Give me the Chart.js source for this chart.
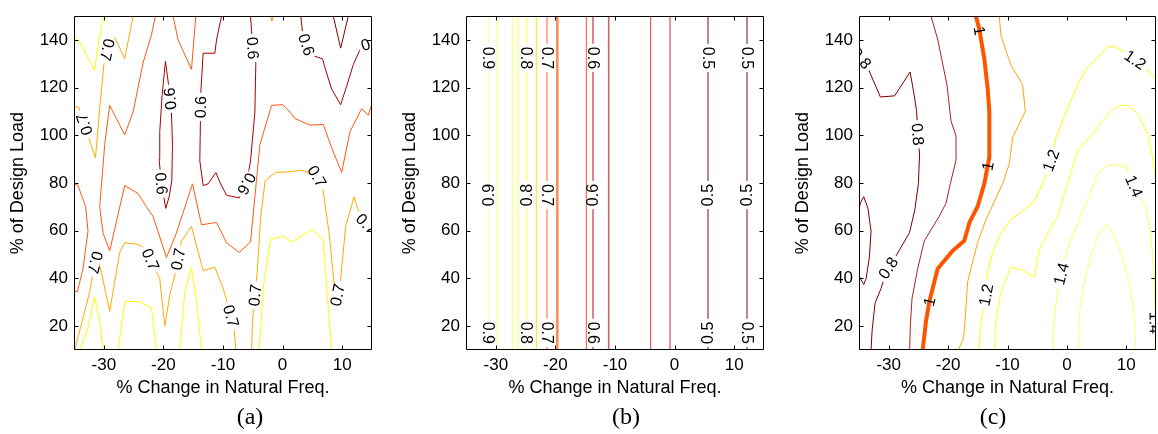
<!DOCTYPE html>
<html><head><meta charset="utf-8">
<script src="https://cdn.jsdelivr.net/npm/chart.js@4.4.0/dist/chart.umd.min.js"></script>
<style>
html,body{margin:0;padding:0;background:#fff;}
#wrap{position:relative;width:1158px;height:434px;overflow:hidden;background:#fff;}
canvas{position:absolute;top:0;}
</style></head><body>
<div id="wrap">
<canvas id="ca" width="390" height="434" style="left:0px"></canvas>
<canvas id="cb" width="390" height="434" style="left:390px"></canvas>
<canvas id="cc" width="378" height="434" style="left:780px"></canvas>
</div>
<script>
// ---------- shared axes ----------
const xRange = [-35, 15];
const yRange = [10, 150];
const xTicks = [-30, -20, -10, 0, 10];
const yTicks = [20, 40, 60, 80, 100, 120, 140];
const xTitle = '% Change in Natural Freq.';
const yTitle = '% of Design Load';
const captions = ['(a)', '(b)', '(c)'];

// ---------- panel (a) contour lines [x, y] ----------
const a_y1 = [[-35,140],[-34.22,140],[-31.53,127.2],[-31.08,135.9],[-30.1,150]];
const a_y2 = [[-34.05,10],[-32.65,19.3],[-31.53,32.3],[-30.69,22.1],[-30.13,10]];
const a_y3 = [[-27.61,10],[-26.49,30.3],[-24.25,30.3],[-22.01,27.8],[-21.17,10]];
const a_y4 = [[-17.25,10],[-16.41,34.4],[-15.29,44.7],[-14.45,30.3],[-13.61,10]];
const a_y5 = [[-3.93,10],[-3.26,35.8],[-2.02,56.4],[0.11,57.7],[1.56,55.3],[4.87,60.5],[6.83,56.1],[7.39,35.8],[8.23,10]];
const a_o1 = [[-25.09,150],[-26.49,132.2],[-28.17,141.1],[-29.01,140.7],[-30.02,129.1],[-30.69,111.2],[-31.4,90.6],[-34.22,111.9],[-35,111.9]];
const a_o2 = [[-34.89,10],[-33.77,20.7],[-32.37,34.4],[-31.7,44.0],[-31.14,49.5],[-30.41,42.6],[-29.01,26.2],[-27.33,50.9],[-26.49,55.0],[-24.25,54.3],[-22.85,52.2],[-21.73,45.4],[-20.61,39.9],[-19.77,20.0],[-18.93,33.0],[-18.09,41.3],[-16.97,55.7],[-15.29,61.8],[-13.33,43.3],[-11.37,44.7],[-9.97,35.8],[-8.18,20],[-7.85,10]];
const a_o3 = [[-5.21,10],[-5.05,22.1],[-4.65,33.0],[-4.26,42.6],[-3.7,65.3],[-2.93,81.0],[-1.18,84.5],[1.06,84.7],[3.03,85.4],[5.55,83.8],[6.67,79.0],[7.8,59.1],[8.62,38.5],[9.18,33.0],[9.74,39.9],[10.58,61.8],[11.98,74.2],[13.1,65.3],[15,60.5]];
const a_o4 = [[-2.02,150],[-1.8,148],[-1.57,150]];
const a_r1 = [[-21.34,150],[-22.01,142.1],[-23.41,130.4],[-25.09,109.8],[-26.49,100.2],[-29.01,112.6],[-29.85,96.1],[-30.69,70.1],[-30.13,59.1],[-29.01,51.6],[-26.49,79.0],[-24.25,75.6],[-22.85,70.1],[-21.73,66.0],[-19.49,48.8],[-17.81,59.1],[-15.12,79.7],[-13.61,62.5],[-11.09,63.5],[-9.41,55.0],[-7.28,50.9],[-5.38,55.3],[-3.81,96.1],[-1.85,112.6],[0.0,112.9],[1.23,109.8],[2.07,107.1],[4.59,104.3],[6.83,104.6],[8.23,94.8],[9.91,84.5],[11.31,101.6],[13.26,111.2],[14.38,108.5],[15,113.3]];
const a_r2 = [[-35,79.7],[-34.33,79.0],[-33.04,70.1],[-32.65,59.8],[-33.49,44.0],[-34.44,34.4],[-35,34.7]];
const a_r3 = [[-18.37,150],[-17.53,140],[-15.29,127.7],[-14.56,150]];
const a_d1 = [[-19.66,131.1],[-19.04,119.5],[-18.65,109.8],[-18.48,96.1],[-18.59,81.0],[-19.04,74.2],[-19.6,69.4],[-19.94,74.2],[-20.33,79.7],[-20.72,90.0],[-20.61,101.6],[-20.22,116.7],[-19.66,131.1]];
const a_d2 = [[-10.25,150],[-11.09,140],[-11.37,134.5],[-13.33,134.5],[-13.72,118.1],[-13.89,89.3],[-13.33,79.0],[-12.49,79.7],[-11.2,84.5],[-10.53,80.4],[-9.41,74.9],[-7.28,73.8],[-6.05,79.7],[-5.38,89.3],[-4.65,109.8],[-4.49,130.4],[-4.93,134.5],[-5.21,144.1],[-5.38,150]];
const a_d3 = [[3.07,150],[3.35,142.8],[4.59,133.9],[6.71,132.1],[7.11,128.4],[8.23,119.4],[9.74,112.9],[10.86,121.5],[11.86,129.7],[13.1,136.6],[14.38,138.4],[15,138.9]];
const a_d4 = [[8.51,150],[9.74,136.6],[11.02,150]];
const labelsA = [[-29.29,135.9,'0.7','flip'],[-33.49,104.5,'0.7','flip'],[-19.2,115.3,'0.6','flip'],[-20.72,79.7,'0.6'],[-13.8,111.9,'0.6'],[-6.05,79.7,'0.6','flip'],[-5.2,136.6,'0.6'],[3.91,138,'0.6'],[14.8,141,'0.6'],
  [-31.4,46.7,'0.7','flip'],[-22.01,48.1,'0.7'],[-17.5,48.1,'0.7'],[-8.85,24.1,'0.7'],[-4.65,33.0,'0.7'],[5.99,83.1,'0.7'],[9.4,33.0,'0.7'],[14.2,63.2,'0.7']];

// ---------- panel (b) vertical contour positions ----------
const bLineX = [-31.2,-29.8,-27.23,-26.28,-24.88,-23.2,-21.41,-19.68,-14.81,-13.69,-11.06,-4.02,-0.77,5.6,12.15];
const labelsB = [
  [-31.2,132.5,'0.9','cw'],[-24.88,132.5,'0.8','cw'],[-21.41,132.5,'0.7','cw'],[-13.69,132.5,'0.6','cw'],[5.6,132.5,'0.5','cw'],[12.15,132.5,'0.5','cw'],
  [-31.2,75,'0.9','ccw'],[-24.88,75,'0.8','ccw'],[-21.41,75,'0.7','cw'],[-13.69,75,'0.6','ccw'],[5.6,75,'0.5','ccw'],[12.15,75,'0.5','ccw'],
  [-31.2,17.2,'0.9','cw'],[-24.88,17.2,'0.8','cw'],[-21.41,17.2,'0.7','cw'],[-13.69,17.2,'0.6','cw'],[5.6,17.2,'0.5','ccw'],[12.15,17.2,'0.5','cw']];

// ---------- panel (c) contour lines ----------
const c_08a = [[-32.97,10],[-32.8,18],[-32.3,29.6],[-31.3,35.8],[-30.2,44],[-28.9,48.9],[-26.5,59.2],[-25.6,68.8],[-25.0,79.8],[-24.8,92.2],[-25.1,100.5],[-25.3,110.1],[-25.8,118.3],[-26.4,126.6],[-29.0,116.6],[-31.4,116.1],[-33.8,130],[-35,133.5]];
const c_08b = [[-35,69],[-34.77,71.6],[-34.2,74.3],[-33.5,69.5],[-32.97,59.9],[-33.25,48.9],[-33.8,40],[-34.2,37.5],[-34.77,40],[-35,41]];
const c_09 = [[-26.47,10],[-26.35,20.7],[-26.07,31.7],[-25.12,44.1],[-24.0,55.8],[-21.48,66.1],[-20.35,71.6],[-19.62,79.8],[-18.61,90.2],[-18.67,99.8],[-19.51,106],[-20.19,121.2],[-21.76,140.4],[-22.88,150]];
const c_10 = [[-24.28,10],[-23.72,22.1],[-23.16,30.3],[-22.6,35.8],[-21.76,44.1],[-19.23,51.6],[-17.27,55.8],[-16.43,63.3],[-15.03,70.2],[-13.9,79.8],[-13.06,90.8],[-13.06,110.1],[-13.34,119.7],[-13.9,132.1],[-14.74,144.5],[-15.31,150]];
const c_11 = [[-18.28,10],[-17.38,15.2],[-17.16,22.1],[-16.71,38.6],[-15.03,55.1],[-13.62,64.7],[-10.82,79.8],[-9.7,88.1],[-9.14,99.1],[-7.0,110.1],[-7.45,121.2],[-9.42,129.4],[-11.1,141.8],[-11.38,150]];
const c_12 = [[-14.74,10],[-14.58,20.7],[-14.02,27.6],[-13.62,33.1],[-13.34,42.7],[-12.5,50.9],[-11.1,59.2],[-9.42,64.7],[-7.17,68.8],[-5.49,72.3],[-4.09,79.8],[-2.69,89.5],[-1.85,99.1],[0.12,111.5],[1.8,121.1],[3.48,128.7],[5.17,132.8],[6.85,137],[7.97,137.4],[9.65,134.9],[11.62,131.5],[13.3,128],[15,123.4]];
const c_13 = [[-12.22,10],[-11.94,22.1],[-11.1,34.4],[-9.42,44.8],[-7.45,43.4],[-5.49,40.6],[-4.65,52.3],[-1.57,66.1],[0.12,79.8],[1.8,93.6],[4.32,100.5],[5.73,105.3],[7.41,110.1],[8.81,112.6],[10.21,112.6],[11.9,109.4],[13.58,100.5],[14.42,90.8],[15,81]];
const c_14 = [[-2.29,10],[-2.13,24.8],[-1.29,38.6],[0.12,52.3],[1.8,63.3],[3.48,73.0],[5.17,84],[6.85,87.4],[8.25,87.8],[9.93,86.7],[11.33,78.5],[13.3,70.2],[14.14,57.8],[14.59,44.1],[14.81,30.3],[14.87,10]];
const c_15 = [[1.97,10],[2.08,24.8],[2.92,38.6],[4.04,49.6],[5.17,57.8],[6.85,62.6],[7.69,59.2],[9.09,50.9],[10.49,38.6],[11.33,24.8],[11.62,10]];
const labelsC = [[-34.8,132,'0.8'],[-25.1,100.5,'0.8'],[-29.9,44.1,'0.8'],[-14.9,143.8,'1'],[-13.06,87,'1'],[-23.1,30.3,'1'],
  [-13.62,33.1,'1.2'],[-2.69,89.5,'1.2'],[11.4,131.4,'1.2'],[-1.1,42,'1.4'],[11.1,78.5,'1.4'],[14.8,21.4,'1.4']];

// ---------- styles ----------
const FONT = "'Liberation Sans', Arial, Helvetica, sans-serif";
const YEL = ['#ffff00',1], ORA = ['#ffaa00',1], ORR = ['#ff5a10',1], DRD = ['#aa0000',1], MAR = ['#800000',1];
const linesA = [a_y1,a_y2,a_y3,a_y4,a_y5,a_o1,a_o2,a_o3,a_o4,a_r1,a_r2,a_r3,a_d1,a_d2,a_d3,a_d4];
const stylesA = [YEL,YEL,YEL,YEL,YEL,ORA,ORA,ORA,['#ff9000',1],ORR,ORR,ORR,DRD,DRD,DRD,MAR];
const linesB = bLineX.map(v => [[v, yRange[0]], [v, yRange[1]]]);
const stylesB = [['#ffff90',1],['#ffff80',1],['#ffff60',1],['#ffff50',1],['#ffff30',1],['#ffe800',1],['#ff6420',1],['#ff8a50',2.5],['#ff5a1a',1],['#b01010',1],['#cc6666',1.6],['#e03c3c',1],['#d02a2a',1],['#a86a6a',1.6],['#a86a6a',1.6]];
const linesC = [c_08a,c_08b,c_09,c_10,c_11,c_12,c_13,c_14,c_15];
const stylesC = [['#7a0000',1],['#7a0000',1],['#b02020',1],['#ff5500',4],['#ffa500',1],['#ffff00',1],['#ffff20',1],['#ffff50',1],['#ffff70',1]];

const decoPlugin = {
  id: 'deco',
  afterDatasetsDraw(chart) {
    const o = chart.options.plugins.deco;
    const {ctx, chartArea: ca} = chart;
    const xs = chart.scales.x, ys = chart.scales.y;
    ctx.save();
    ctx.beginPath(); ctx.rect(ca.left, ca.top, ca.right - ca.left, ca.bottom - ca.top); ctx.clip();
    ctx.font = '16px ' + FONT;
    ctx.textAlign = 'center'; ctx.textBaseline = 'middle';
    for (const lab of o.labels) {
      const px = xs.getPixelForValue(lab[0]), py = ys.getPixelForValue(lab[1]);
      let best = null;
      o.lines.forEach((line, li) => {
        for (let i = 0; i < line.length - 1; i++) {
          const ax = xs.getPixelForValue(line[i][0]), ay = ys.getPixelForValue(line[i][1]);
          const bx = xs.getPixelForValue(line[i+1][0]), by = ys.getPixelForValue(line[i+1][1]);
          const dx = bx - ax, dy = by - ay, L2 = dx*dx + dy*dy;
          if (!L2) continue;
          let t = ((px - ax)*dx + (py - ay)*dy) / L2; t = Math.max(0, Math.min(1, t));
          const qx = ax + t*dx, qy = ay + t*dy, d = (qx-px)*(qx-px) + (qy-py)*(qy-py);
          if (!best || d < best.d) best = {d, qx, qy, ang: Math.atan2(dy, dx), li};
        }
      });
      if (!best) continue;
      let ang = best.ang;
      if (ang > Math.PI/2) ang -= Math.PI; else if (ang < -Math.PI/2) ang += Math.PI;
      if (lab[3] === 'cw') ang = Math.PI/2;
      else if (lab[3] === 'ccw') ang = -Math.PI/2;
      else if (lab[3] === 'flip') ang += Math.PI;
      ctx.save();
      ctx.translate(best.qx, best.qy); ctx.rotate(ang);
      const w = ctx.measureText(lab[2]).width;
      if (o.styles[best.li][1] < 3) { ctx.fillStyle = '#fff'; ctx.fillRect(-w/2 - 3, -4, w + 6, 8); }
      ctx.fillStyle = '#000'; ctx.fillText(lab[2], 0, 1);
      ctx.restore();
    }
    ctx.restore();
    // frame and inward ticks
    ctx.save();
    ctx.strokeStyle = '#000'; ctx.lineWidth = 1;
    const L = Math.round(ca.left) + 0.5, R = Math.round(ca.right) - 0.5, T = Math.round(ca.top) + 0.5, B = Math.round(ca.bottom) - 0.5;
    ctx.beginPath(); ctx.rect(L, T, R - L, B - T);
    for (const v of xTicks) { const p = Math.round(xs.getPixelForValue(v)) + 0.5; ctx.moveTo(p, B); ctx.lineTo(p, B - 4); ctx.moveTo(p, T); ctx.lineTo(p, T + 4); }
    for (const v of yTicks) { const p = Math.round(ys.getPixelForValue(v)) + 0.5; ctx.moveTo(L, p); ctx.lineTo(L + 4, p); ctx.moveTo(R, p); ctx.lineTo(R - 4, p); }
    ctx.stroke();
    ctx.fillStyle = '#000'; ctx.font = '24px "Liberation Serif", "Times New Roman", serif';
    ctx.textAlign = 'center'; ctx.textBaseline = 'middle';
    ctx.fillText(o.caption, o.captionX, 418);
    ctx.restore();
  }
};

function makeChart(id, lines, styles, labels, caption, captionX, yWidth, rightPad, yTitlePad) {
  const datasets = lines.map((pts, i) => ({
    data: pts.map(p => ({x: p[0], y: p[1]})),
    showLine: true, borderColor: styles[i][0], borderWidth: styles[i][1],
    pointRadius: 0, pointHoverRadius: 0, fill: false, tension: 0,
    borderJoinStyle: 'round', borderCapStyle: 'butt'
  }));
  return new Chart(document.getElementById(id), {
    type: 'scatter',
    data: {datasets},
    options: {
      responsive: false, animation: false, events: [],
      layout: {padding: {left: 0, right: rightPad, top: 10, bottom: 0}},
      plugins: {legend: {display: false}, tooltip: {enabled: false},
        deco: {lines, styles, labels, caption, captionX}},
      scales: {
        x: {
          type: 'linear', min: xRange[0], max: xRange[1],
          afterBuildTicks: s => { s.ticks = xTicks.map(v => ({value: v})); },
          afterFit: s => { s.height = 84; },
          grid: {display: false, drawTicks: false}, border: {display: false},
          ticks: {padding: 5, color: '#000', font: {family: FONT, size: 17}, maxRotation: 0, autoSkip: false, callback: v => String(v)},
          title: {display: true, text: xTitle, color: '#000', font: {family: FONT, size: 18}, padding: {top: 0, bottom: 35}}
        },
        y: {
          type: 'linear', min: yRange[0], max: yRange[1],
          afterBuildTicks: s => { s.ticks = yTicks.map(v => ({value: v})); },
          afterFit: s => { s.width = yWidth; },
          grid: {display: false, drawTicks: false}, border: {display: false},
          ticks: {padding: 6, color: '#000', font: {family: FONT, size: 17}, autoSkip: false, callback: v => String(v)},
          title: {display: true, text: yTitle, color: '#000', font: {family: FONT, size: 18}, padding: {top: yTitlePad, bottom: 0}}
        }
      }
    },
    plugins: [decoPlugin]
  });
}

makeChart('ca', linesA, stylesA, labelsA, captions[0], 250, 74, 18, 7.5);
makeChart('cb', linesB, stylesB, labelsB, captions[1], 236, 76, 16, 9.2);
makeChart('cc', linesC, stylesC, labelsC, captions[2], 213, 79, 2, 12.5);
</script>
</body></html>
